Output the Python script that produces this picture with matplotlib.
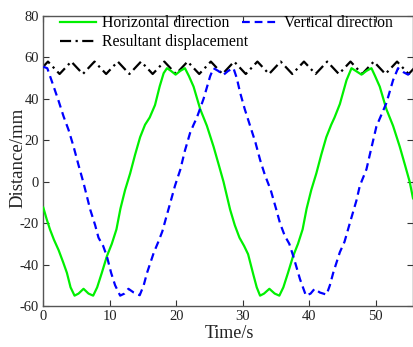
import numpy as np
import matplotlib
matplotlib.use("Agg")
import matplotlib.pyplot as plt

plt.rcParams['font.family'] = ['Liberation Serif', 'DejaVu Serif']
plt.rcParams['axes.unicode_minus'] = False

# Horizontal direction (time s, distance mm)
h_t = [0.0, 0.5, 1.0, 1.6, 2.3, 3.0, 3.55, 4.1, 4.7, 5.3, 6.05, 6.8, 7.5, 8.1, 8.8,
       9.56, 10.3, 11.0, 11.6, 12.3, 13.06, 13.8, 14.56, 15.3, 16.0, 16.8, 17.5, 18.1,
       18.6, 19.2, 19.9, 20.6, 21.3, 21.9, 22.6, 23.6, 24.6, 25.6, 26.4, 27.1, 28.1,
       28.8, 29.5, 30.2, 30.8, 31.6, 32.1, 32.6, 33.2, 34.0, 34.8, 35.5, 36.1, 36.8,
       37.56, 38.3, 39.0, 39.6, 40.3, 41.06, 41.8, 42.56, 43.3, 43.8, 44.6, 45.6, 46.35,
       47.0, 47.85, 48.6, 49.35, 49.9, 50.6, 51.6, 52.6, 53.6, 54.4, 55.1, 55.6]
h_v = [-12.5, -18, -23, -28, -33, -39, -44, -51, -55, -54, -51.7, -54, -55, -51, -44,
       -36, -30, -23, -13, -4, 4, 13, 21.5, 27.5, 31, 37, 46, 52.4,
       54.8, 53.5, 51.7, 53.5, 54.8, 51, 45.9, 35, 27, 17, 8, 0, -13.5,
       -21, -27, -31, -35, -45, -51, -55, -54, -51.7, -54, -55, -51, -44,
       -36, -30, -23, -13, -4, 4, 13, 21.5, 27.5, 31, 37.5, 49, 54.8,
       53.5, 51.7, 53.5, 54.8, 51, 45.9, 35, 27, 17, 8, 0, -8]

# Vertical direction
v_t = [0.0, 0.6, 1.55, 2.3, 3.05, 3.8, 4.55, 5.3, 6.05, 7.06, 7.8, 8.3, 9.0, 9.56,
       10.2, 10.8, 11.56, 12.2, 12.8, 13.6, 14.5, 15.1, 15.6, 16.6, 17.3, 17.9, 18.5,
       19.07, 19.8, 20.6, 21.3, 22.07, 22.6, 23.1, 24.1, 25.1, 25.6, 26.3, 27.1, 27.8,
       28.6, 29.1, 29.6, 30.3, 31.1, 31.9, 32.6, 33.3, 34.2, 35.0, 35.6, 36.3, 37.0,
       37.6, 38.6, 39.5, 40.2, 40.8, 41.6, 42.6, 43.1, 43.6, 44.6, 45.3, 46.1, 47.1,
       47.6, 48.6, 49.1, 50.1, 51.6, 52.6, 53.35, 54.1, 54.85, 55.6]
v_v = [55.5, 54.8, 46, 39, 31.5, 25, 17, 8, -0.6, -13.5, -21, -27, -31, -36,
       -44, -50, -55, -54, -51.7, -53.5, -54.8, -50, -44, -34.4, -29, -24, -17,
       -10.5, -2, 5.8, 15, 23.5, 27.5, 31, 40, 51, 54.8, 53.5, 51.6, 53.5,
       54.8, 50, 43, 35, 27, 19, 10.6, 3.5, -4, -13, -20, -26, -30,
       -36, -47, -55, -54, -51.7, -53.5, -54.5, -50, -44, -34, -29, -20, -9,
       -2, 6, 13, 26.7, 38, 49, 54.8, 53, 51.7, 53.5]

# Resultant displacement
r_t = [-0.175, 0.7, 1.575, 2.45, 3.325, 4.2, 5.075, 5.95, 6.825, 7.7, 8.575, 9.45,
       10.325, 11.2, 12.075, 12.95, 13.825, 14.7, 15.575, 16.45, 17.325, 18.2, 19.075,
       19.95, 20.825, 21.7, 22.575, 23.45, 24.325, 25.2, 26.075, 26.95, 27.825, 28.7,
       29.575, 30.45, 31.325, 32.2, 33.075, 33.95, 34.825, 35.7, 36.575, 37.45, 38.325,
       39.2, 40.075, 40.95, 41.825, 42.7, 43.575, 44.45, 45.325, 46.2, 47.075, 47.95,
       48.825, 49.7, 50.575, 51.45, 52.325, 53.2, 54.075, 54.95, 55.825]
r_v = [55, 58, 55, 52, 55, 58, 55, 52, 55, 58, 55, 52,
       55, 58, 55, 52, 55, 58, 55, 52, 55, 58, 55,
       52, 55, 58, 55, 52, 55, 58, 55, 52, 55, 58,
       55, 52, 55, 58, 55, 52, 55, 58, 55, 52, 55,
       58, 55, 52, 55, 58, 55, 52, 55, 58, 55, 52,
       55, 58, 55, 52, 55, 58, 55, 52, 55]

x_ticks = [0, 10, 20, 30, 40, 50]
y_ticks = [-60, -40, -20, 0, 20, 40, 60, 80]

W, H = 413, 347
fig = plt.figure(figsize=(W / 100, H / 100), dpi=100)
ax_l, ax_r, ax_t, ax_b = 43.3, 413, 16, 306
aw, ah = ax_r - ax_l, ax_b - ax_t
ax = fig.add_axes([ax_l / W, 1 - ax_b / H, aw / W, ah / H])

ax.plot(h_t, h_v, color='#00f000', lw=1.6, label='Horizontal direction', zorder=3)
ax.plot(r_t, r_v, color='black', lw=1.6, ls=(0, (5, 2, 1, 2)),
        label='Resultant displacement', zorder=2)
ax.plot(v_t, v_v, color='#0000ff', lw=1.6, ls=(0, (3.5, 2.2)),
        label='Vertical direction', zorder=3)

ax.set_xlim(0, 55.6)
ax.set_ylim(-60, 80)
ax.set_xticks(x_ticks)
ax.set_yticks(y_ticks)
ax.tick_params(direction='in', top=True, right=True, labelsize=10.5, length=4, width=0.8,
               colors='#333333', labelcolor='#222222', pad=3)
for s in ax.spines.values():
    s.set_color('#555555')
    s.set_linewidth(1.0)

ax.set_xlabel('Time/s', fontsize=13, color='#222222')
ax.set_ylabel('Distance/mm', fontsize=13.5, color='#222222')
ax.xaxis.set_label_coords((229 - ax_l) / aw, -(325 - ax_b) / ah)
ax.yaxis.set_label_coords(-(ax_l - 26) / aw, (ax_b - 157.5) / ah)

fs = 11.3
em = fs * 100 / 72
ax.legend(loc='upper left', ncol=2, frameon=False, fontsize=fs, handlelength=2.3,
          handletextpad=0.35, columnspacing=-0.35, labelspacing=0.2,
          borderpad=0.4, borderaxespad=0,
          bbox_to_anchor=((60 - 0.4 * em - ax_l) / aw, (ax_b - 9) / ah))

fig.savefig('out.png', dpi=100)
